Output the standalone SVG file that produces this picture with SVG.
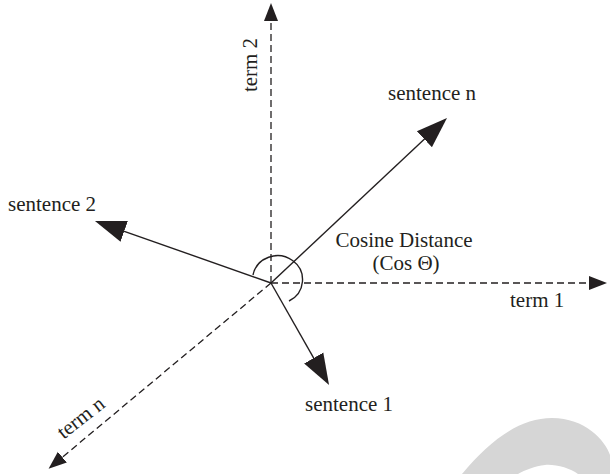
<svg xmlns="http://www.w3.org/2000/svg" width="610" height="474" viewBox="0 0 610 474">
  <style>
    .lbl { font-family: "Liberation Serif", "Times New Roman", serif; font-size: 21px; fill: #231f20; }
    .axis { stroke: #231f20; stroke-width: 1.3; stroke-dasharray: 7 4; fill: none; }
    .vec { stroke: #231f20; stroke-width: 1.4; fill: none; }
  </style>
  <defs>
    <marker id="headBig" markerUnits="userSpaceOnUse" markerWidth="34" markerHeight="26" viewBox="0 -13 34 26" refX="21" refY="0" orient="auto">
      <path d="M0,-11 L31,0 L0,11 Z" fill="#231f20"/>
    </marker>
    <marker id="headSmall" markerUnits="userSpaceOnUse" markerWidth="20" markerHeight="16" viewBox="0 -8 20 16" refX="10" refY="0" orient="auto">
      <path d="M0,-7 L18,0 L0,7 Z" fill="#231f20"/>
    </marker>
  </defs>

  <!-- faint logo band in the lower right corner -->
  <path d="M462,474 C490,440 520,418 552,418 C585,418 605,440 610,455 L610,474 L578,474 C570,468 555,464 545,465 C535,466 525,470 518,474 Z" fill="#d6d6d6"/>

  <g id="connectors">
    <!-- term axes (dashed) -->
    <line id="axis-term1" class="axis" x1="271" y1="283" x2="599" y2="283" marker-end="url(#headSmall)"/>
    <line id="axis-term2" class="axis" x1="271" y1="283" x2="271" y2="11" marker-end="url(#headSmall)"/>
    <line id="axis-termn" class="axis" x1="271" y1="283" x2="54.7" y2="463.6" marker-end="url(#headSmall)"/>
    <!-- sentence vectors (solid) -->
    <line id="vec-sn" class="vec" x1="271" y1="283" x2="439.7" y2="124.8" marker-end="url(#headBig)"/>
    <line id="vec-s2" class="vec" x1="271" y1="283" x2="104.4" y2="224.3" marker-end="url(#headBig)"/>
    <line id="vec-s1" class="vec" x1="271" y1="283" x2="324.1" y2="376.3" marker-end="url(#headBig)"/>
    <!-- angle arc -->
    <path id="angle-arc" class="vec" d="M253,275 A25,24 0 1 1 289,301"/>
  </g>

  <g id="node-sentence-n"><text class="lbl" x="388" y="100">sentence n</text></g>
  <g id="node-sentence-2"><text class="lbl" x="8" y="211">sentence 2</text></g>
  <g id="node-sentence-1"><text class="lbl" x="305" y="411">sentence 1</text></g>
  <g id="node-cosine">
    <text class="lbl" x="404" y="247" text-anchor="middle">Cosine Distance</text>
    <text class="lbl" x="406" y="270" text-anchor="middle">(Cos Θ)</text>
  </g>
  <g id="node-term-1"><text class="lbl" x="510" y="307">term 1</text></g>
  <g id="node-term-2"><text class="lbl" transform="translate(257,65) rotate(-90)" text-anchor="middle">term 2</text></g>
  <g id="node-term-n"><text class="lbl" transform="translate(85,423) rotate(-38)" text-anchor="middle">term n</text></g>
</svg>
